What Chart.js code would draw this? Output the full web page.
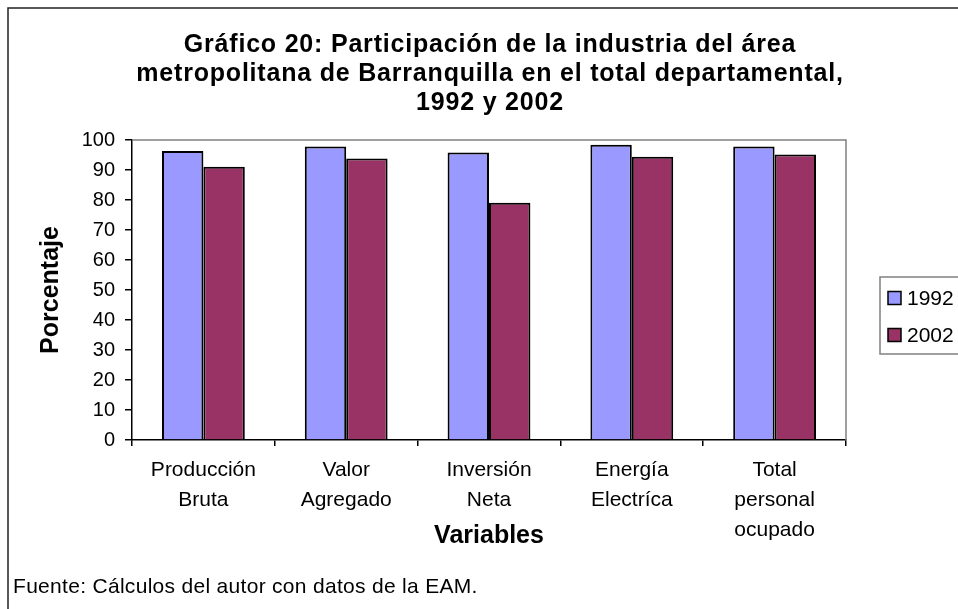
<!DOCTYPE html>
<html>
<head>
<meta charset="utf-8">
<title>Gráfico 20</title>
<script src="https://cdn.jsdelivr.net/npm/chart.js@4"></script>
<style>
  html, body { margin: 0; padding: 0; background: #fff; }
  #wrap { width: 958px; height: 609px; position: relative; }
</style>
</head>
<body>
<div id="wrap"><canvas id="chart" width="958" height="609"></canvas></div>
<script>
  const FONT = 'Arial, "Liberation Sans", sans-serif';

  // data
  const categories = [
    ['Producción', 'Bruta'],
    ['Valor', 'Agregado'],
    ['Inversión', 'Neta'],
    ['Energía', 'Electríca'],
    ['Total', 'personal', 'ocupado']
  ];
  const seriesNames = ['1992', '2002'];
  const values1992 = [96.3, 97.8, 95.8, 98.4, 97.8];
  const values2002 = [91.1, 93.8, 79.1, 94.4, 95.2];
  const colors = ['#9999FF', '#993366'];

  const titleLines = [
    'Gráfico 20: Participación de la industria del área',
    'metropolitana de Barranquilla en el total departamental,',
    '1992 y 2002'
  ];
  const sourceNote = 'Fuente: Cálculos del autor con datos de la EAM.';

  Chart.defaults.font.family = FONT;
  Chart.defaults.color = '#000';

  // frame, title, plot border, legend box, footnote
  const decor = {
    id: 'decor',
    beforeDatasetsDraw(chart) {
      const ctx = chart.ctx;
      const a = chart.chartArea;
      ctx.save();
      ctx.strokeStyle = '#808080';
      ctx.lineWidth = 1.5;
      ctx.beginPath();
      ctx.moveTo(a.left, a.top);
      ctx.lineTo(a.right, a.top);
      ctx.lineTo(a.right, a.bottom);
      ctx.stroke();
      ctx.restore();
    },
    afterDraw(chart) {
      const ctx = chart.ctx;
      ctx.save();
      // outer frame (top + left visible)
      ctx.strokeStyle = '#222';
      ctx.lineWidth = 1.5;
      ctx.beginPath();
      ctx.moveTo(8, 609);
      ctx.lineTo(8, 8);
      ctx.lineTo(958, 8);
      ctx.stroke();

      // title
      ctx.fillStyle = '#000';
      ctx.font = 'bold 25px ' + FONT;
      ctx.letterSpacing = '0.8px';
      ctx.textAlign = 'center';
      ctx.textBaseline = 'alphabetic';
      titleLines.forEach((t, i) => ctx.fillText(t, 490, 52 + i * 29));

      // footnote
      ctx.font = '21px ' + FONT;
      ctx.letterSpacing = '0.3px';
      ctx.textAlign = 'left';
      ctx.fillText(sourceNote, 13, 593);
      ctx.letterSpacing = '0px';

      // legend
      ctx.strokeStyle = '#808080';
      ctx.lineWidth = 1.5;
      ctx.strokeRect(880, 277, 100, 77);
      ctx.textBaseline = 'middle';
      chart.data.datasets.forEach((ds, i) => {
        const cy = 298 + i * 37;
        ctx.fillStyle = ds.backgroundColor;
        ctx.fillRect(888, cy - 6.5, 13, 13);
        ctx.strokeStyle = '#000';
        ctx.lineWidth = 1.5;
        ctx.strokeRect(888, cy - 6.5, 13, 13);
        ctx.fillStyle = '#000';
        ctx.fillText(ds.label, 907, cy + 1);
      });
      ctx.restore();
    }
  };

  new Chart(document.getElementById('chart'), {
    type: 'bar',
    data: {
      labels: categories,
      datasets: [
        { label: seriesNames[0], data: values1992, backgroundColor: colors[0] },
        { label: seriesNames[1], data: values2002, backgroundColor: colors[1] }
      ]
    },
    options: {
      responsive: false,
      devicePixelRatio: 1,
      animation: false,
      layout: { padding: { top: 140, right: 112, bottom: 0, left: 0 } },
      datasets: {
        bar: {
          categoryPercentage: 0.58,
          barPercentage: 1.0,
          borderColor: '#000',
          borderWidth: 2,
          borderSkipped: 'start'
        }
      },
      plugins: {
        legend: { display: false },
        title: { display: false },
        tooltip: { enabled: false }
      },
      scales: {
        x: {
          grid: { drawOnChartArea: false, offset: true, color: '#000', tickLength: 6, lineWidth: 1.5 },
          border: { color: '#000', width: 1.5 },
          ticks: { font: { size: 21, lineHeight: 1.43 }, padding: 9, maxRotation: 0, autoSkip: false },
          title: {
            display: true,
            text: 'Variables',
            font: { size: 25, weight: 'bold' },
            padding: { top: 0, bottom: 58 }
          },
          afterFit(scale) { scale.height = 169; }
        },
        y: {
          min: 0,
          max: 100,
          grid: { drawOnChartArea: false, color: '#000', tickLength: 7, lineWidth: 1.5 },
          border: { color: '#000', width: 1.5 },
          ticks: { stepSize: 10, font: { size: 20 }, padding: 10 },
          title: {
            display: true,
            text: 'Porcentaje',
            font: { size: 25, weight: 'bold' },
            padding: { top: 36, bottom: 0 }
          },
          afterFit(scale) { scale.width = 132; }
        }
      }
    },
    plugins: [decor]
  });
</script>
</body>
</html>
